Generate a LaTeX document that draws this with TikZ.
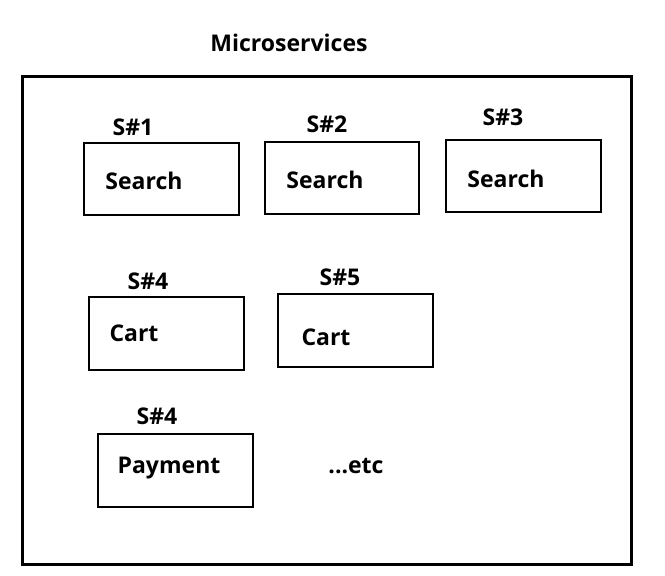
\documentclass[tikz,border=0pt]{standalone}
\usepackage{fontspec}
\setmainfont{Open Sans}
\begin{document}
\begin{tikzpicture}[x=1pt,y=-1pt,
  svc/.style={draw=black,line width=2.6pt},
  lbl/.style={font=\fontsize{23}{27}\selectfont\bfseries,inner sep=0pt,yshift=-2pt}]
\useasboundingbox (0,0) rectangle (665,576);
\node[lbl] (title) at (289,41) {Microservices};
\draw[line width=3pt] (22,76) rectangle (631,564);
% row 1
\node[lbl] (l1) at (133,125) {S\#1};
\draw[svc] (84,143) rectangle (239,215);
\node[lbl] (t1) at (144,179) {Search};
\node[lbl] (l2) at (327,122) {S\#2};
\draw[svc] (265,142) rectangle (419,214);
\node[lbl] (t2) at (325,178) {Search};
\node[lbl] (l3) at (503,115) {S\#3};
\draw[svc] (446,140) rectangle (601,212);
\node[lbl] (t3) at (506,177) {Search};
% row 2
\node[lbl] (l4) at (148,279) {S\#4};
\draw[svc] (89,297) rectangle (244,370);
\node[lbl] (t4) at (134,331) {Cart};
\node[lbl] (l5) at (340,275) {S\#5};
\draw[svc] (278,294) rectangle (433,367);
\node[lbl] (t5) at (326,335) {Cart};
% row 3
\node[lbl] (l6) at (157,414) {S\#4};
\draw[svc] (98,434) rectangle (253,507);
\node[lbl] (t6) at (169,466) {Payment};
\node[lbl] (etc) at (356,464) {...etc};
\end{tikzpicture}
\end{document}
